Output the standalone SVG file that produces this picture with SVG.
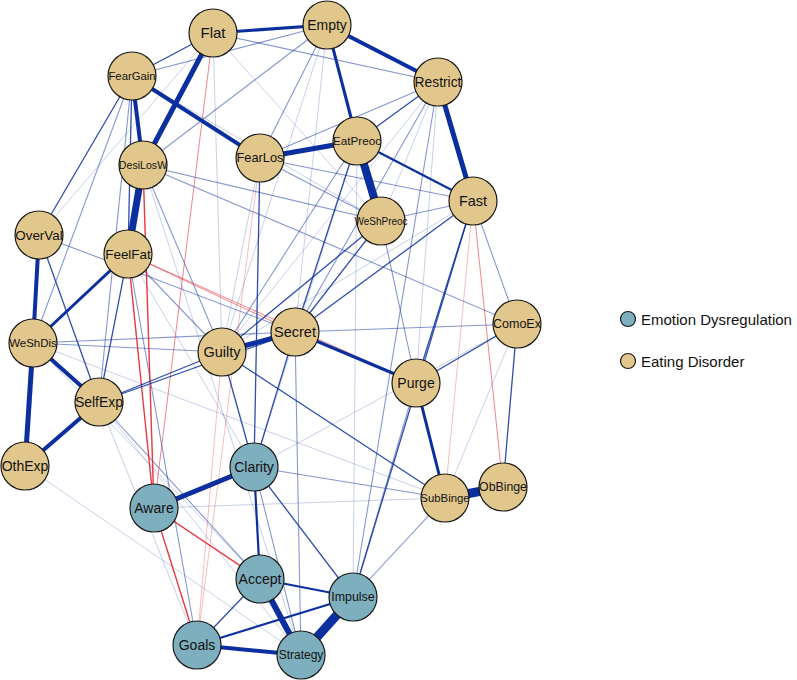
<svg xmlns="http://www.w3.org/2000/svg" width="797" height="680" viewBox="0 0 797 680">
<style>
.b{stroke:#0b2f9f;fill:none}
.r{stroke:#e2232b;fill:none}
.w9{stroke-width:9}.w8{stroke-width:8}.w7{stroke-width:7}.w6{stroke-width:6}.w5{stroke-width:5}.w4{stroke-width:4}.w3{stroke-width:3}.w2{stroke-width:2.2}
.m{stroke-width:1.3;stroke-opacity:.85}
.l{stroke-width:1.1;stroke-opacity:.5}
.f{stroke-width:1;stroke-opacity:.22}
.rm{stroke-width:1.4;stroke-opacity:.9}
.rl{stroke-width:1;stroke-opacity:.55}
.rf{stroke-width:1;stroke-opacity:.3}
circle{stroke:#1a1a1a;stroke-width:1.2}
.ed{fill:#E2C78D}
.em{fill:#7EAFBF}
text{font-family:"Liberation Sans",Arial,sans-serif;text-anchor:middle;fill:#111}
.lg{text-anchor:start;font-size:15px}
</style>
<rect width="797" height="680" fill="#fff"/>
<g id="edges">
<!-- faint -->
<line class="b f" x1="213" y1="33" x2="39" y2="235"/>
<line class="b f" x1="327" y1="25" x2="295" y2="332"/>
<line class="b f" x1="327" y1="25" x2="222" y2="352"/>
<line class="b f" x1="327" y1="25" x2="381" y2="221"/>
<line class="b f" x1="438" y1="82" x2="381" y2="221"/>
<line class="b f" x1="438" y1="82" x2="222" y2="352"/>
<line class="b f" x1="438" y1="82" x2="416" y2="383"/>
<line class="b f" x1="357" y1="141" x2="353" y2="597"/>
<line class="b f" x1="357" y1="141" x2="254" y2="467"/>
<line class="b f" x1="154" y1="508" x2="445" y2="498"/>
<line class="b f" x1="25" y1="466" x2="301" y2="655"/>
<line class="b f" x1="33" y1="343" x2="445" y2="498"/>
<line class="b f" x1="99" y1="402" x2="197" y2="645"/>
<line class="b f" x1="99" y1="402" x2="301" y2="655"/>
<line class="b f" x1="517" y1="324" x2="445" y2="498"/>
<line class="b f" x1="254" y1="467" x2="517" y2="324"/>
<line class="b f" x1="33" y1="343" x2="260" y2="579"/>
<line class="b f" x1="260" y1="158" x2="222" y2="352"/>
<line class="b f" x1="213" y1="33" x2="381" y2="221"/>
<line class="b f" x1="473" y1="201" x2="222" y2="352"/>
<line class="b f" x1="213" y1="33" x2="222" y2="352"/>
<line class="b f" x1="132" y1="76" x2="381" y2="221"/>
<line class="b f" x1="143" y1="165" x2="301" y2="655"/>
<line class="b f" x1="128" y1="254" x2="254" y2="467"/>
<!-- light -->
<line class="b l" x1="213" y1="33" x2="438" y2="82"/>
<line class="b l" x1="132" y1="76" x2="327" y2="25"/>
<line class="b l" x1="143" y1="165" x2="327" y2="25"/>
<line class="b l" x1="438" y1="82" x2="260" y2="158"/>
<line class="b l" x1="327" y1="25" x2="260" y2="158"/>
<line class="b l" x1="260" y1="158" x2="473" y2="201"/>
<line class="b l" x1="260" y1="158" x2="381" y2="221"/>
<line class="b l" x1="143" y1="165" x2="381" y2="221"/>
<line class="b l" x1="143" y1="165" x2="517" y2="324"/>
<line class="b l" x1="295" y1="332" x2="517" y2="324"/>
<line class="b l" x1="33" y1="343" x2="222" y2="352"/>
<line class="b l" x1="33" y1="343" x2="295" y2="332"/>
<line class="b l" x1="39" y1="235" x2="295" y2="332"/>
<line class="b l" x1="517" y1="324" x2="473" y2="201"/>
<line class="b l" x1="438" y1="82" x2="295" y2="332"/>
<line class="b l" x1="357" y1="141" x2="222" y2="352"/>
<line class="b l" x1="381" y1="221" x2="473" y2="201"/>
<line class="b l" x1="99" y1="402" x2="260" y2="579"/>
<line class="b l" x1="295" y1="332" x2="301" y2="655"/>
<line class="b l" x1="254" y1="467" x2="445" y2="498"/>
<line class="b l" x1="353" y1="597" x2="445" y2="498"/>
<line class="b l" x1="416" y1="383" x2="353" y2="597"/>
<line class="b l" x1="438" y1="82" x2="353" y2="597"/>
<line class="b l" x1="381" y1="221" x2="416" y2="383"/>
<line class="b l" x1="132" y1="76" x2="99" y2="402"/>
<line class="b l" x1="128" y1="254" x2="197" y2="645"/>
<line class="b l" x1="33" y1="343" x2="132" y2="76"/>
<line class="b l" x1="254" y1="467" x2="301" y2="655"/>
<line class="b l" x1="143" y1="165" x2="222" y2="352"/>
<line class="b l" x1="128" y1="254" x2="222" y2="352"/>
<!-- red -->
<line class="r rl" x1="213" y1="33" x2="154" y2="508"/>
<line class="r rm" x1="128" y1="254" x2="154" y2="508"/>
<line class="r rm" x1="143" y1="165" x2="154" y2="508"/>
<line class="r rl" x1="128" y1="254" x2="416" y2="383"/>
<line class="r rl" x1="128" y1="254" x2="295" y2="332"/>
<line class="r rm" x1="154" y1="508" x2="197" y2="645"/>
<line class="r rm" x1="154" y1="508" x2="260" y2="579"/>
<line class="r rl" x1="473" y1="201" x2="503" y2="487"/>
<line class="r rf" x1="473" y1="201" x2="445" y2="498"/>
<line class="r rf" x1="260" y1="158" x2="197" y2="645"/>
<line class="r rf" x1="222" y1="352" x2="197" y2="645"/>
<!-- medium -->
<line class="b m" x1="213" y1="33" x2="132" y2="76"/>
<line class="b m" x1="39" y1="235" x2="99" y2="402"/>
<line class="b m" x1="128" y1="254" x2="99" y2="402"/>
<line class="b m" x1="260" y1="158" x2="254" y2="467"/>
<line class="b m" x1="295" y1="332" x2="254" y2="467"/>
<line class="b m" x1="222" y1="352" x2="254" y2="467"/>
<line class="b m" x1="99" y1="402" x2="222" y2="352"/>
<line class="b m" x1="99" y1="402" x2="295" y2="332"/>
<line class="b m" x1="222" y1="352" x2="445" y2="498"/>
<line class="b m" x1="438" y1="82" x2="357" y2="141"/>
<line class="b m" x1="473" y1="201" x2="416" y2="383"/>
<line class="b m" x1="473" y1="201" x2="353" y2="597"/>
<line class="b m" x1="517" y1="324" x2="416" y2="383"/>
<line class="b m" x1="517" y1="324" x2="503" y2="487"/>
<line class="b m" x1="222" y1="352" x2="381" y2="221"/>
<line class="b m" x1="295" y1="332" x2="357" y2="141"/>
<line class="b m" x1="295" y1="332" x2="473" y2="201"/>
<line class="b m" x1="295" y1="332" x2="381" y2="221"/>
<line class="b m" x1="132" y1="76" x2="128" y2="254"/>
<line class="b m" x1="132" y1="76" x2="39" y2="235"/>
<line class="b m" x1="197" y1="645" x2="260" y2="579"/>
<line class="b m" x1="254" y1="467" x2="353" y2="597"/>
<!-- strong -->
<line class="b w5" x1="213" y1="33" x2="143" y2="165"/>
<line class="b w4" x1="132" y1="76" x2="260" y2="158"/>
<line class="b w4" x1="132" y1="76" x2="143" y2="165"/>
<line class="b w7" x1="143" y1="165" x2="128" y2="254"/>
<line class="b w3" x1="213" y1="33" x2="327" y2="25"/>
<line class="b w4" x1="327" y1="25" x2="438" y2="82"/>
<line class="b w3" x1="327" y1="25" x2="357" y2="141"/>
<line class="b w5" x1="438" y1="82" x2="473" y2="201"/>
<line class="b w5" x1="260" y1="158" x2="357" y2="141"/>
<line class="b w8" x1="357" y1="141" x2="381" y2="221"/>
<line class="b w2" x1="357" y1="141" x2="473" y2="201"/>
<line class="b w4" x1="39" y1="235" x2="33" y2="343"/>
<line class="b w5" x1="33" y1="343" x2="25" y2="466"/>
<line class="b w4" x1="33" y1="343" x2="99" y2="402"/>
<line class="b w4" x1="99" y1="402" x2="25" y2="466"/>
<line class="b w3" x1="128" y1="254" x2="33" y2="343"/>
<line class="b w5" x1="222" y1="352" x2="295" y2="332"/>
<line class="b w3" x1="295" y1="332" x2="416" y2="383"/>
<line class="b w3" x1="416" y1="383" x2="445" y2="498"/>
<line class="b w9" x1="445" y1="498" x2="503" y2="487"/>
<line class="b w5" x1="154" y1="508" x2="254" y2="467"/>
<line class="b w6" x1="260" y1="579" x2="301" y2="655"/>
<line class="b w9" x1="353" y1="597" x2="301" y2="655"/>
<line class="b w4" x1="197" y1="645" x2="301" y2="655"/>
<line class="b w2" x1="254" y1="467" x2="260" y2="579"/>
<line class="b w2" x1="260" y1="579" x2="353" y2="597"/>
<line class="b w2" x1="197" y1="645" x2="353" y2="597"/>
</g>
<g id="n-Flat"><circle class="ed" cx="213" cy="33" r="24"/><text x="213" y="33" dy="0.35em" font-size="15">Flat</text></g>
<g id="n-Empty"><circle class="ed" cx="327" cy="25" r="24"/><text x="327" y="25" dy="0.35em" font-size="14">Empty</text></g>
<g id="n-FearGain"><circle class="ed" cx="132" cy="76" r="24"/><text x="132" y="76" dy="0.35em" font-size="11.3">FearGain</text></g>
<g id="n-Restrict"><circle class="ed" cx="438" cy="82" r="24"/><text x="438" y="82" dy="0.35em" font-size="13.8">Restrict</text></g>
<g id="n-EatPreoc"><circle class="ed" cx="357" cy="141" r="24"/><text x="357" y="141" dy="0.35em" font-size="11.7">EatPreoc</text></g>
<g id="n-DesiLosW"><circle class="ed" cx="143" cy="165" r="24"/><text x="143" y="165" dy="0.35em" font-size="10.6">DesiLosW</text></g>
<g id="n-FearLos"><circle class="ed" cx="260" cy="158" r="24"/><text x="260" y="158" dy="0.35em" font-size="12.8">FearLos</text></g>
<g id="n-Fast"><circle class="ed" cx="473" cy="201" r="24"/><text x="473" y="201" dy="0.35em" font-size="14.5">Fast</text></g>
<g id="n-WeShPreoc"><circle class="ed" cx="381" cy="221" r="24"/><text x="381" y="221" dy="0.35em" font-size="10">WeShPreoc</text></g>
<g id="n-OverVal"><circle class="ed" cx="39" cy="235" r="24"/><text x="39" y="235" dy="0.35em" font-size="13.4">OverVal</text></g>
<g id="n-FeelFat"><circle class="ed" cx="128" cy="254" r="24"/><text x="128" y="254" dy="0.35em" font-size="13.4">FeelFat</text></g>
<g id="n-Secret"><circle class="ed" cx="295" cy="332" r="24"/><text x="295" y="332" dy="0.35em" font-size="14.5">Secret</text></g>
<g id="n-Guilty"><circle class="ed" cx="222" cy="352" r="24"/><text x="222" y="352" dy="0.35em" font-size="14.5">Guilty</text></g>
<g id="n-ComoEx"><circle class="ed" cx="517" cy="324" r="24"/><text x="517" y="324" dy="0.35em" font-size="12.5">ComoEx</text></g>
<g id="n-WeShDis"><circle class="ed" cx="33" cy="343" r="24"/><text x="33" y="343" dy="0.35em" font-size="11.5">WeShDis</text></g>
<g id="n-Purge"><circle class="ed" cx="416" cy="383" r="24"/><text x="416" y="383" dy="0.35em" font-size="14">Purge</text></g>
<g id="n-SelfExp"><circle class="ed" cx="99" cy="402" r="24"/><text x="99" y="402" dy="0.35em" font-size="14">SelfExp</text></g>
<g id="n-OthExp"><circle class="ed" cx="25" cy="466" r="24"/><text x="25" y="466" dy="0.35em" font-size="14">OthExp</text></g>
<g id="n-SubBinge"><circle class="ed" cx="445" cy="498" r="24"/><text x="445" y="498" dy="0.35em" font-size="11.4">SubBinge</text></g>
<g id="n-ObBinge"><circle class="ed" cx="503" cy="487" r="24"/><text x="503" y="487" dy="0.35em" font-size="12.3">ObBinge</text></g>
<g id="n-Clarity"><circle class="em" cx="254" cy="467" r="24"/><text x="254" y="467" dy="0.35em" font-size="14">Clarity</text></g>
<g id="n-Aware"><circle class="em" cx="154" cy="508" r="24"/><text x="154" y="508" dy="0.35em" font-size="14">Aware</text></g>
<g id="n-Accept"><circle class="em" cx="260" cy="579" r="24"/><text x="260" y="579" dy="0.35em" font-size="14">Accept</text></g>
<g id="n-Impulse"><circle class="em" cx="353" cy="597" r="24"/><text x="353" y="597" dy="0.35em" font-size="12.4">Impulse</text></g>
<g id="n-Goals"><circle class="em" cx="197" cy="645" r="24"/><text x="197" y="645" dy="0.35em" font-size="14">Goals</text></g>
<g id="n-Strategy"><circle class="em" cx="301" cy="655" r="24"/><text x="301" y="655" dy="0.35em" font-size="12">Strategy</text></g>
<g id="legend">
<circle class="em" cx="628" cy="319" r="7.5"/><text class="lg" x="641" y="325">Emotion Dysregulation</text>
<circle class="ed" cx="628" cy="361" r="7.5"/><text class="lg" x="641" y="367">Eating Disorder</text>
</g>
</svg>
